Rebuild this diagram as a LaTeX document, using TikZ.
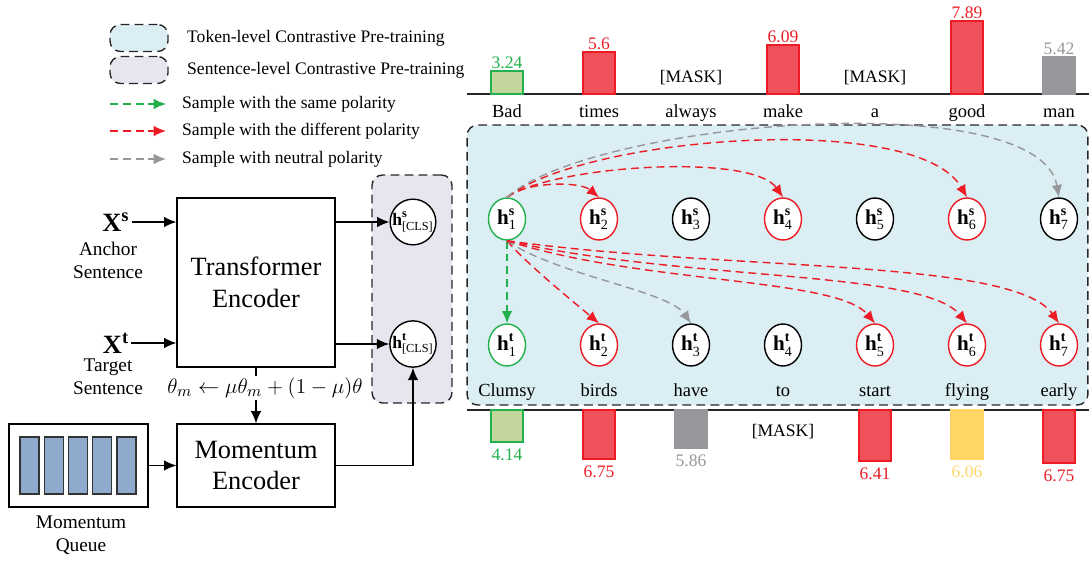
\documentclass[tikz,border=0pt]{standalone}
\usepackage{amsmath}
\usepackage{fontspec}
\setmainfont{Liberation Serif}
\usetikzlibrary{shapes.geometric,arrows.meta}

\definecolor{tokfill}{RGB}{218,238,243}
\definecolor{senfill}{RGB}{232,229,239}
\definecolor{posgreen}{RGB}{34,177,76}
\definecolor{negred}{RGB}{237,28,36}
\definecolor{neugray}{RGB}{150,150,155}
\definecolor{barred}{RGB}{240,80,90}
\definecolor{bargreen}{RGB}{195,214,155}
\definecolor{baryellow}{RGB}{255,214,102}
\definecolor{queueblue}{RGB}{143,170,204}

\tikzset{
  levelbox/.style={draw=black!85,line width=0.8pt,dash pattern=on 5pt off 3pt,rounded corners=6pt},
  hnode/.style={ellipse,draw,fill=white,line width=0.8pt,minimum width=0.74cm,minimum height=0.84cm,inner sep=0pt,font=\fontsize{12}{13}\selectfont},
  posh/.style={hnode,draw=posgreen},
  negh/.style={hnode,draw=negred},
  neuh/.style={hnode,draw=black},
  clsnode/.style={circle,draw,fill=white,line width=0.8pt,minimum size=0.8cm,inner sep=0pt,font=\fontsize{10}{12}\selectfont},
  samp/.style={->,line width=0.8pt,dash pattern=on 4.5pt off 2.8pt},
  enc/.style={draw,line width=0.7pt,align=center,font=\fontsize{15}{18}\selectfont},
  word/.style={anchor=base,font=\fontsize{10.5}{12}\selectfont},
  val/.style={font=\fontsize{10}{12}\selectfont,inner sep=1pt},
  small/.style={align=center,font=\fontsize{11}{13}\selectfont},
  legtext/.style={anchor=west,font=\fontsize{10}{12}\selectfont},
  gbar/.style={fill=bargreen,draw=posgreen,line width=0.6pt},
  rbar/.style={fill=barred,draw=negred,line width=0.6pt},
  nbar/.style={fill=neugray,draw=neugray,line width=0.6pt},
  ybar/.style={fill=baryellow,draw=baryellow,line width=0.6pt},
  qbar/.style={fill=queueblue,draw=black!80,line width=0.6pt}
}

\begin{document}
\begin{tikzpicture}[x=0.02cm,y=0.02cm,>={Latex[length=7pt,width=6pt]}]
\useasboundingbox (0,0) rectangle (1089,562);

% legend
\node[levelbox,fill=tokfill,minimum width=1.16cm,minimum height=0.54cm] (legtok) at (139,524) {};
\node[levelbox,fill=senfill,minimum width=1.16cm,minimum height=0.54cm] (legsen) at (139,492) {};
\node[legtext] at (181,524) {Token-level Contrastive Pre-training};
\node[legtext] at (181,492) {Sentence-level Contrastive Pre-training};
\coordinate (lga1) at (110,458); \coordinate (lgb1) at (166,458);
\coordinate (lga2) at (110,431); \coordinate (lgb2) at (166,431);
\coordinate (lga3) at (110,403); \coordinate (lgb3) at (166,403);
\draw[samp,posgreen] (lga1) -- (lgb1);
\draw[samp,negred] (lga2) -- (lgb2);
\draw[samp,neugray] (lga3) -- (lgb3);
\node[legtext] at (176,458) {Sample with the same polarity};
\node[legtext] at (176,431) {Sample with the different polarity};
\node[legtext] at (176,403) {Sample with neutral polarity};

% backgrounds
\node[levelbox,fill=tokfill,minimum width=12.42cm,minimum height=5.6cm] (tokbox) at (777.5,297) {};
\node[levelbox,fill=senfill,minimum width=1.6cm,minimum height=4.56cm] (senbox) at (412,273) {};

% encoders
\node[enc,minimum width=3.16cm,minimum height=3.38cm] (trans) at (256,279.5) {Transformer\\Encoder};
\node[enc,minimum width=3.16cm,minimum height=1.66cm] (mom) at (256,96.5) {Momentum\\Encoder};
\node[draw,line width=0.7pt,minimum width=2.78cm,minimum height=1.66cm] (queue) at (78.5,96.5) {};
\foreach \k in {0,...,4}
  \draw[qbar] ({20+24.25*\k},68) rectangle +(19,57);
\node[small] (qlabel) at (81,27) {Momentum\\Queue};

% inputs
\node[font=\fontsize{15}{18}\selectfont,inner sep=1pt] (Xs) at (116,340) {$\textbf{X}^{\textbf{s}}$};
\node[font=\fontsize{15}{18}\selectfont,inner sep=1pt] (Xt) at (116,219) {$\textbf{X}^{\textbf{t}}$};
\node[small] at (108,301.5) {Anchor\\Sentence};
\node[small] at (108,185) {Target\\Sentence};
\draw[->,line width=0.8pt] (Xs.east) -- (Xs -| trans.west);
\draw[->,line width=0.8pt] (Xt.east) -- (Xt -| trans.west);

% sentence level
\node[clsnode] (cs) at (413,340) {$\textbf{h}^{\textbf{s}}_{\text{[CLS]}}$};
\node[clsnode] (ct) at (413,218) {$\textbf{h}^{\textbf{t}}_{\text{[CLS]}}$};
\draw[->,line width=0.8pt] (cs -| trans.east) -- (cs);
\draw[->,line width=0.8pt] (ct -| trans.east) -- (ct);
\draw[->,line width=0.8pt] (trans.south) -- (mom.north);
\node[fill=white,inner sep=1pt,font=\fontsize{13}{15}\selectfont] (upd) at (265,174) {$\theta_m \leftarrow \mu\theta_m + (1-\mu)\theta$};
\draw[->,line width=0.8pt] (queue) -- (mom);
\draw[->,line width=0.8pt] (mom.east) -| (ct.south);

% token level
\draw[line width=1.3pt,black!85] (467,468) -- (1089,468);
\draw[line width=1.3pt,black!85] (467,152) -- (1089,152);
\foreach \w [count=\i] in {Bad,times,always,make,a,good,man}
  \node[word] (ws\i) at ({507+92*(\i-1)},444) {\w};
\foreach \w [count=\i] in {Clumsy,birds,have,to,start,flying,early}
  \node[word] (wt\i) at ({507+92*(\i-1)},166) {\w};
\foreach \i/\c in {1/posh,2/negh,3/neuh,4/negh,5/neuh,6/negh,7/neuh}
  \node[\c] (hs\i) at ({507+92*(\i-1)},343) {$\textbf{h}^{\textbf{s}}_{\text{\i}}$};
\foreach \i/\c in {1/posh,2/negh,3/neuh,4/neuh,5/negh,6/negh,7/negh}
  \node[\c] (ht\i) at ({507+92*(\i-1)},217) {$\textbf{h}^{\textbf{t}}_{\text{\i}}$};

% bars
\foreach \i/\v/\h/\b/\c in {1/3.24/491/gbar/posgreen,2/5.6/510/rbar/negred,4/6.09/517/rbar/negred,6/7.89/541/rbar/negred,7/5.42/505/nbar/neugray}{
  \draw[\b] ({507+92*(\i-1)-16},468) rectangle ({507+92*(\i-1)+16},\h);
  \node[val,text=\c,anchor=south] (vs\i) at ({507+92*(\i-1)},\h) {\v};
}
\foreach \i/\v/\h/\b/\c in {1/4.14/120/gbar/posgreen,2/6.75/103/rbar/negred,3/5.86/114/nbar/neugray,5/6.41/101/rbar/negred,6/6.06/103/ybar/baryellow,7/6.75/99/rbar/negred}{
  \draw[\b] ({507+92*(\i-1)-16},152) rectangle ({507+92*(\i-1)+16},\h);
  \node[val,text=\c,anchor=north] (vt\i) at ({507+92*(\i-1)},\h-5) {\v};
}
\node[val] (ms3) at (691,484) {[MASK]};
\node[val] (ms5) at (875,484) {[MASK]};
\node[val] (mt4) at (783,130) {[MASK]};

% contrastive samples
\draw[samp,negred] (hs1.north) to[out=40,in=140,distance=0.5cm] (hs2.north);
\draw[samp,negred] (hs1.north) to[out=35,in=125,distance=1.1cm] (hs4.north);
\draw[samp,negred] (hs1.north) to[out=38,in=120,distance=2cm] (hs6.north);
\draw[samp,neugray] (hs1.north) to[out=42,in=100,distance=2.3cm] (hs7.north);
\draw[samp,posgreen] (hs1) -- (ht1);
\draw[samp,negred] (hs1.south) to[out=-50,in=140,distance=0.6cm] (ht2.north);
\draw[samp,neugray] (hs1.south) to[out=-35,in=125,out distance=1.2cm,in distance=0.8cm] (ht3.north);
\draw[samp,negred] (hs1.south) to[out=-18,in=130,out distance=2.8cm,in distance=1.2cm] (ht5.north);
\draw[samp,negred] (hs1.south) to[out=-13,in=130,out distance=3.6cm,in distance=1.4cm] (ht6.north);
\draw[samp,negred] (hs1.south) to[out=-8,in=125,out distance=4.4cm,in distance=1.6cm] (ht7.north);
\end{tikzpicture}
\end{document}
